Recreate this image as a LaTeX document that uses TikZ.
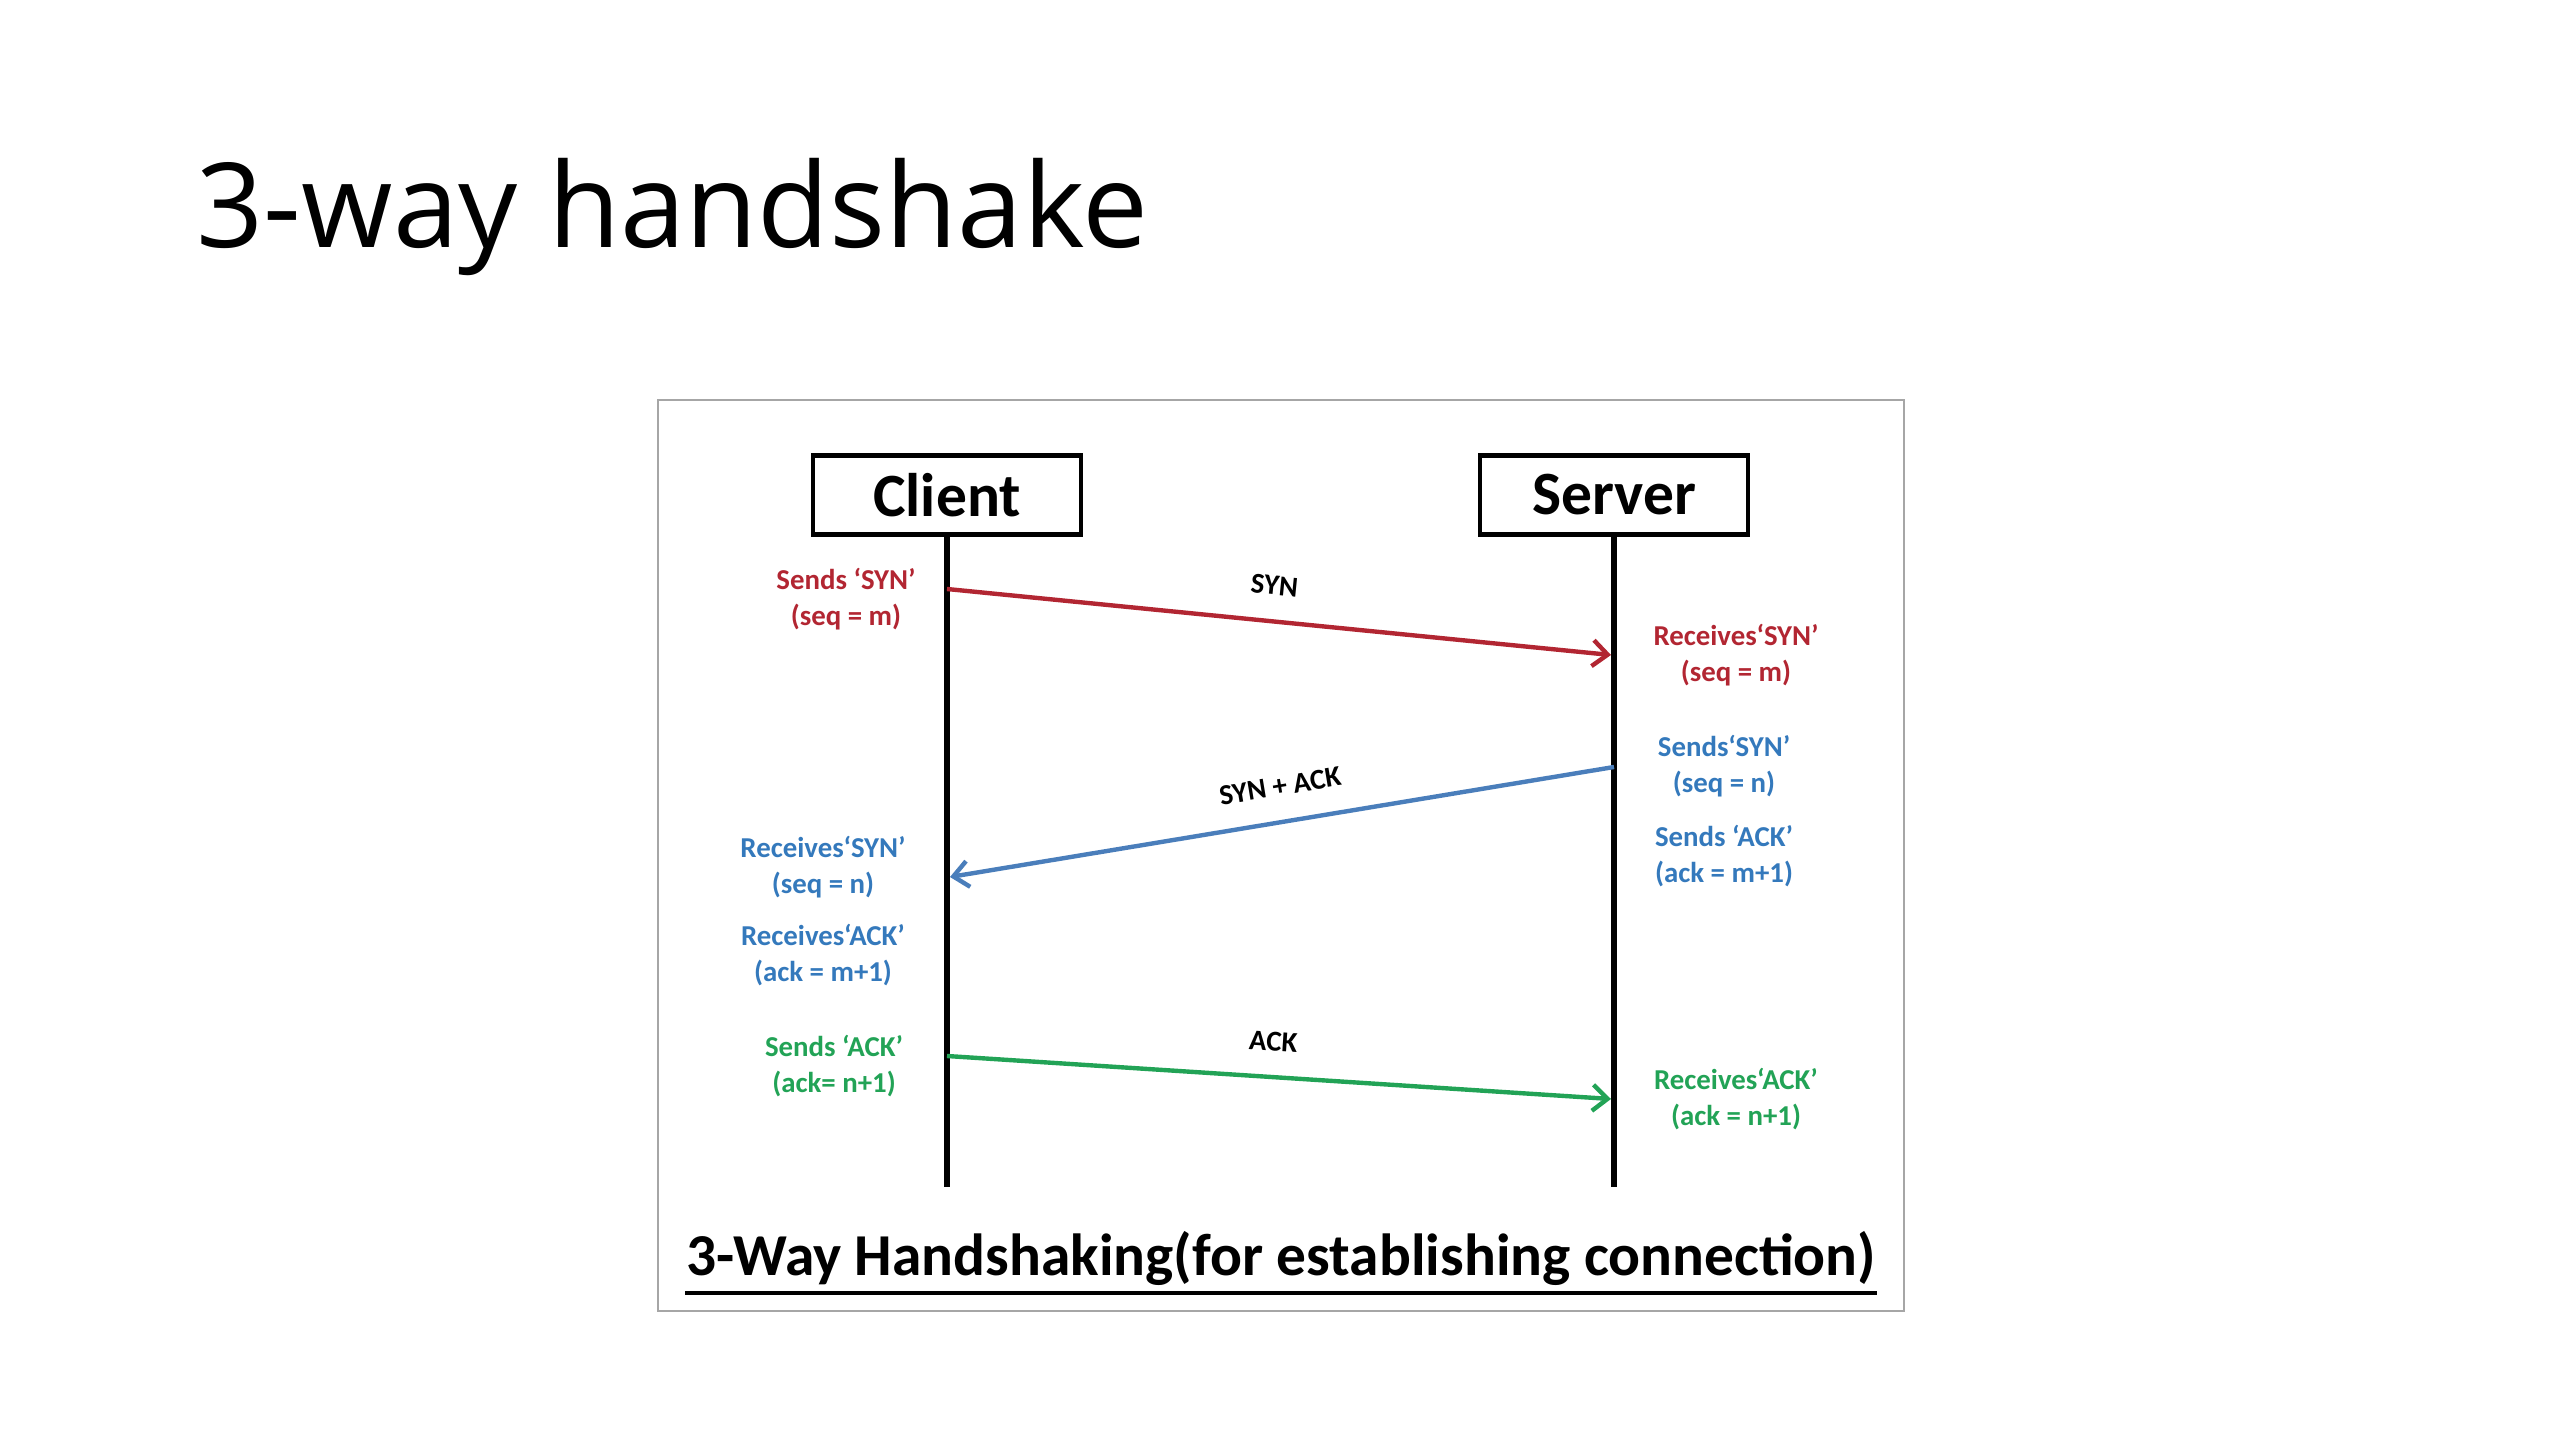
\documentclass[tikz,border=0pt]{standalone}
\usepackage{fontspec}
\setmainfont{Carlito}
\newfontfamily\slidefont{Open Sans}
\usetikzlibrary{
  arrows.meta,
  positioning
}
\definecolor{hsSyn}{HTML}{B22632}
\definecolor{hsSynAck}{HTML}{4A7EBB}
\definecolor{hsSynAckTxt}{HTML}{3479BC}
\definecolor{hsAck}{HTML}{22A356}
\definecolor{hsFrame}{HTML}{A6A6A6}
\tikzset{
  hostbox/.style={
    draw, line width=1.3pt, minimum width=2.68cm, minimum height=0.79cm,
    font=\fontsize{17.5}{20}\selectfont\bfseries, inner sep=0pt
  },
  lifeline/.style={line width=1.7pt},
  note/.style={font=\fontsize{8.2}{10.2}\selectfont\bfseries, align=center, inner sep=0pt},
  msg/.style={-{Straight Barb[length=1.5mm, width=2.6mm]}, line width=1.25pt},
  msglabel/.style={font=\fontsize{8.2}{9}\selectfont\bfseries, inner sep=0pt, sloped, above=2.4mm, xshift=-0.8mm},
  frame/.style={draw=hsFrame, line width=0.6pt}
}

\begin{document}
\begin{tikzpicture}[x=0.01cm, y=-0.01cm]
  \useasboundingbox (0,0) rectangle (2560,1440);
  \node[anchor=base west, inner sep=0pt, font=\slidefont\fontsize{33.4}{40}\selectfont] (title) at (196,248) {3-way handshake};
  \draw[frame] (658,400) rectangle (1904,1311);

  % hosts and lifelines
  \node[hostbox] (client) at (947,495) {Client};
  \node[hostbox] (server) at (1614,495) {Server};
  \coordinate (clientend) at (947,1187);
  \coordinate (serverend) at (1614,1187);
  \draw[lifeline] (client.south) -- (clientend);
  \draw[lifeline] (server.south) -- (serverend);

  % message end points
  \coordinate (synout) at (947,589);  \coordinate (synin) at (1611,655);
  \coordinate (saout) at (1614,767);  \coordinate (sain) at (950,877);
  \coordinate (ackout) at (947,1056); \coordinate (ackin) at (1611,1099);

  \draw[msg, hsSyn] (synout) -- node[msglabel, black] (synlbl) {SYN} (synin);
  \draw[msg, hsSynAck] (saout) -- node[msglabel, black, xshift=1.2mm] (salbl) {SYN + ACK} (sain);
  \draw[msg, hsAck] (ackout) -- node[msglabel, black] (acklbl) {ACK} (ackin);

  % client side notes
  \node[note, hsSyn] (csyn) at (846,599) {Sends `SYN'\\(seq = m)};
  \node[note, hsSynAckTxt] (crsyn) at (823,867) {Receives`SYN'\\(seq = n)};
  \node[note, hsSynAckTxt] (crack) at (823,955) {Receives`ACK'\\(ack = m+1)};
  \node[note, hsAck] (cack) at (834,1066) {Sends `ACK'\\(ack= n+1)};

  % server side notes
  \node[note, hsSyn] (srsyn) at (1736,655) {Receives`SYN'\\(seq = m)};
  \node[note, hsSynAckTxt] (ssyn) at (1724,766) {Sends`SYN'\\(seq = n)};
  \node[note, hsSynAckTxt] (sack) at (1724,856) {Sends `ACK'\\(ack = m+1)};
  \node[note, hsAck] (srack) at (1736,1099) {Receives`ACK'\\(ack = n+1)};

  \node[anchor=base, inner sep=0pt, font=\fontsize{16.9}{20}\selectfont\bfseries] (caption) at (1281,1275) {3-Way Handshaking(for establishing connection)};
  \draw[line width=1pt] ([yshift=-1.8mm]caption.base west) -- ([yshift=-1.8mm]caption.base east);
\end{tikzpicture}
\end{document}
